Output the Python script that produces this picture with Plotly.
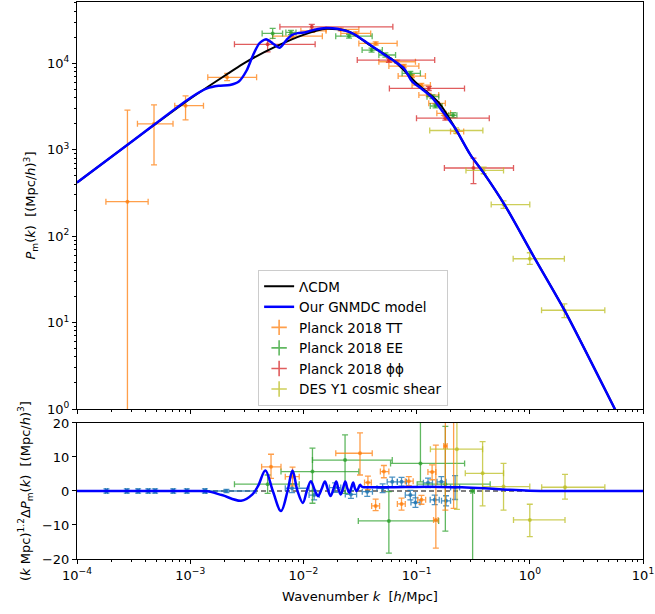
import plotly.graph_objects as go

# ---------------- model curves, top panel ----------------
k_lcdm = [1e-4, 3.16e-4, 1e-3, 1.78e-3, 3.16e-3, 5.62e-3, 1e-2, 1.585e-2, 2.51e-2, 3.98e-2,
          6.31e-2, 0.1, 0.1585, 0.219, 0.298, 0.391, 0.607, 1.077, 2.05, 5.64, 10.0]
P_lcdm = [417, 1288, 3890, 6457, 10470, 15490, 21380, 25120, 23440, 15850,
          10720, 5890, 3470, 1780, 880, 540, 224, 58.9, 13.5, 1.0, 0.225]

k_gn = [1e-4, 3.16e-4, 1e-3, 1.41e-3, 1.78e-3, 2.24e-3, 2.69e-3, 3.16e-3, 3.55e-3, 4.07e-3,
        4.68e-3, 5.37e-3, 6.17e-3, 7.08e-3, 7.94e-3, 8.91e-3, 1.047e-2, 1.259e-2, 1.585e-2,
        1.995e-2, 2.69e-2, 3.55e-2, 5.01e-2, 6.46e-2, 7.76e-2, 9.12e-2, 0.1122, 0.138, 0.166,
        0.219, 0.298, 0.391, 0.607, 1.077, 2.05, 5.64, 10.0]
P_gn = [417, 1288, 3980, 5130, 5500, 5620, 6170, 8320, 12020, 16980,
        19050, 16980, 15140, 18620, 21380, 22390, 22910, 24550, 25700,
        25120, 22390, 17780, 13030, 10470, 8710, 6170, 5010, 3980, 2880,
        1780, 880, 540, 224, 58.9, 13.5, 1.0, 0.225]

# ---------------- residual curve, bottom panel ----------------
logk_res = [-4.0, -3.0, -2.85, -2.72, -2.55, -2.45, -2.40, -2.336, -2.27, -2.198, -2.14, -2.096,
            -2.052, -2.005, -1.97, -1.934, -1.90, -1.87, -1.84, -1.81, -1.785, -1.76, -1.735,
            -1.71, -1.69, -1.67, -1.65, -1.63, -1.612, -1.595, -1.578, -1.56, -1.545, -1.53,
            -1.515, -1.50, -1.48, -1.40, -1.2, -1.0, -0.8, -0.6, -0.4, -0.2, 0.0, 0.3, 1.0]
res_gn = [0.0, 0.0, -0.1, -1.2, -2.85, -1.0, 1.5, 6.0, 0.0, -5.9, 0.0, 6.0,
          0.0, -3.5, 0.0, 2.9, 0.3, -1.5, 0.5, 2.8, 0.5, -1.5, 0.5,
          2.8, 0.5, -1.0, 0.8, 2.8, 0.8, -0.5, 0.8, 2.5, 0.8, 0.0,
          0.8, 1.8, 1.2, 1.1, 1.1, 1.2, 1.2, 1.1, 0.8, 0.4, 0.1, 0.0, 0.0]

# ---------------- data, top panel: k, k_low, k_high, P, P_low, P_high ----------------
tt_k = [2.79e-4, 4.79e-4, 9.1e-4, 2.12e-3, 8.0e-3, 0.012, 0.0214, 0.029, 0.0435, 0.0673,
        0.077, 0.091, 0.110, 0.128, 0.151, 0.174, 0.227]
tt_klo = [1.80e-4, 3.42e-4, 7.3e-4, 1.43e-3, 5.35e-3, 9.5e-3, 0.01585, 0.0214, 0.0309, 0.0464,
          0.0569, 0.0687, 0.0912, 0.1047, 0.128, 0.151, 0.1995]
tt_khi = [4.25e-4, 7.05e-4, 1.31e-3, 3.86e-3, 1.47e-2, 0.01585, 0.0309, 0.0393, 0.0673, 0.0977,
          0.1047, 0.1197, 0.1324, 0.1567, 0.1795, 0.1995, 0.2606]
tt_P = [251, 1995, 3240, 6900, 20650, 23800, 24700, 22200, 17000, 10430,
        9300, 7130, 5610, 4300, 3450, 2640, 1630]
tt_Plo = [-1, 670, 2220, 6300, 19500, 22800, 23800, 21300, 16300, 10000,
          8900, 6850, 5380, 4120, 3300, 2500, 1540]
tt_Phi = [2880, 3300, 4200, 7670, 21800, 24800, 25600, 23100, 17700, 10900,
          9700, 7420, 5850, 4480, 3600, 2780, 1720]

ee_k = [5.35e-3, 7.76e-3, 0.0253, 0.040, 0.053, 0.088, 0.138, 0.147, 0.21]
ee_klo = [4.32e-3, 7.0e-3, 0.0193, 0.033, 0.0464, 0.0745, 0.1236, 0.132, 0.192]
ee_khi = [6.55e-3, 8.6e-3, 0.0405, 0.0498, 0.0652, 0.108, 0.157, 0.168, 0.227]
ee_P = [22200, 22800, 20650, 14260, 12500, 7670, 4110, 3210, 2510]
ee_Plo = [19450, 21500, 19600, 13500, 11800, 7300, 3900, 3050, 2350]
ee_Phi = [25350, 24100, 21700, 15000, 13200, 8050, 4320, 3380, 2680]

pp_k = [4.83e-3, 0.01186, 0.0569, 0.128, 0.1795, 0.318]
pp_klo = [2.46e-3, 6.2e-3, 0.0299, 0.0575, 0.0998, 0.176]
pp_khi = [0.0127, 0.0617, 0.1445, 0.265, 0.4385, 0.718]
pp_P = [16600, 26500, 10900, 5130, 2320, 615]
pp_Plo = [13600, 23200, 10300, 4850, 2200, 405]
pp_Phi = [18580, 28200, 11500, 5420, 2450, 802]

des_k = [0.223, 0.391, 0.586, 1.0, 2.02]
des_klo = [0.1306, 0.273, 0.456, 0.713, 1.27]
des_khi = [0.385, 0.586, 1.0, 2.02, 4.6]
des_P = [1670, 577, 232, 54.8, 13.9]
des_Plo = [1560, 528, 210, 47.1, 11.4]
des_Phi = [1790, 631, 256, 64.3, 16.5]

# ---------------- data, bottom panel: log10 k, log10 k_low, log10 k_high, value, low, high ----------------
tt_rlk = [-2.286, -2.096, -1.50, -1.43, -1.362, -1.289, -1.133, -1.069, -0.957, -0.863, -0.83, -0.746, -0.673]
tt_rlklo = [-2.369, -2.16, -1.714, -1.46, -1.397, -1.32, -1.17, -1.10, -0.99, -0.90, -0.85, -0.76, -0.69]
tt_rlkhi = [-2.198, -2.037, -1.392, -1.40, -1.327, -1.245, -1.10, -1.03, -0.92, -0.83, -0.81, -0.73, -0.655]
tt_r = [7.1, 4.2, 11.1, 2.5, -4.4, 5.7, -3.8, 2.9, -2.6, 5.6, -8.5, 13.2, 30.0]
tt_rlo = [3.7, 1.5, 4.7, 0.4, -5.8, 3.9, -5.6, 1.6, -3.9, 3.3, -16.8, -5.6, -5.1]
tt_rhi = [10.8, 7.0, 17.1, 4.4, -2.4, 7.5, -2.1, 4.2, -1.3, 7.7, 13.5, 25.0, 35.0]

ee_rlk = [-2.316, -1.92, -1.632, -1.245, -0.966, -0.746, -0.505]
ee_rlklo = [-2.609, -2.198, -1.92, -1.515, -1.23, -0.995, -0.52]
ee_rlkhi = [-2.037, -1.51, -1.215, -0.805, -0.576, -0.35, -0.49]
ee_r = [2.0, 5.7, 9.1, -8.8, 8.1, 2.0, 0.0]
ee_rlo = [-0.7, -3.6, -0.7, -18.3, 2.7, -11.8, -30.0]
ee_rhi = [4.7, 12.6, 16.5, -0.2, 25.0, 19.0, 0.8]

des_rlk = [-0.644, -0.417, -0.232, 0.0, 0.311]
des_rlklo = [-0.878, -0.57, -0.417, -0.144, 0.105]
des_rlkhi = [-0.417, -0.232, 0.0, 0.311, 0.663]
des_r = [12.3, 5.2, 1.3, -8.5, 1.1]
des_rlo = [-5.4, -4.4, -5.6, -13.4, -2.4]
des_rhi = [22.0, 14.5, 8.1, -3.9, 4.9]

lrg_rlk = [-3.74, -3.56, -3.46, -3.37, -3.31, -3.15, -3.03, -2.87, -2.68, -2.10, -1.905, -1.72,
           -1.58, -1.436, -1.30, -1.215, -1.133, -1.055, -1.01, -0.899, -0.84, -0.781, -0.74, -0.66]
lrg_rlklo = [-3.75, -3.57, -3.47, -3.38, -3.32, -3.16, -3.04, -2.88, -2.858, -2.16, -1.95, -1.77,
             -1.63, -1.48, -1.35, -1.26, -1.17, -1.10, -1.05, -0.94, -0.88, -0.82, -0.78, -0.70]
lrg_rlkhi = [-3.73, -3.55, -3.45, -3.36, -3.30, -3.14, -3.02, -2.86, -2.418, -1.95, -1.86, -1.67,
             -1.53, -1.39, -1.25, -1.17, -1.09, -1.01, -0.97, -0.86, -0.80, -0.74, -0.70, -0.62]
lrg_r = [0, 0, 0, 0, 0, 0, 0, 0, 0, 0.8, -1.2, 1.0, -1.0, -0.2, 0.8, 2.7, 2.7, -1.2, -3.4, 2.4,
         -2.6, 2.7, -2.9, 1.0]
lrg_rlo = [-0.6, -0.6, -0.6, -0.6, -0.6, -0.6, -0.6, -0.6, -0.5, -0.5, -2.6, -0.4, -2.2, -1.6,
           -0.5, 1.3, 1.4, -2.6, -4.8, 1.0, -4.0, 1.2, -4.4, -2.5]
lrg_rhi = [0.6, 0.6, 0.6, 0.6, 0.6, 0.6, 0.6, 0.6, 0.5, 2.1, 0.2, 2.4, 0.2, 1.2, 2.1, 4.1, 4.0,
           0.2, -2.0, 3.8, -1.2, 4.2, -1.4, 4.5]

FONT = "DejaVu Sans"
C_TT = "rgba(255,127,14,0.75)"
C_EE = "rgba(44,160,44,0.75)"
C_PP = "rgba(214,39,40,0.75)"
C_DES = "rgba(188,189,34,0.75)"
C_LRG = "rgba(31,119,180,0.8)"

fig = go.Figure()


def add_top(color, k, klo, khi, P, Plo, Phi):
    fig.add_trace(go.Scatter(
        x=k, y=P, mode="markers", showlegend=False,
        marker=dict(color=color, size=4),
        error_x=dict(type="data", symmetric=False,
                     array=[h - c for c, h in zip(k, khi)],
                     arrayminus=[c - l for c, l in zip(k, klo)],
                     color=color, thickness=1.3, width=3),
        error_y=dict(type="data", symmetric=False,
                     array=[h - c for c, h in zip(P, Phi)],
                     arrayminus=[c - l for c, l in zip(P, Plo)],
                     color=color, thickness=1.3, width=3),
        xaxis="x", yaxis="y"))


def add_bot(color, lk, lklo, lkhi, r, rlo, rhi):
    k = [10 ** v for v in lk]
    fig.add_trace(go.Scatter(
        x=k, y=r, mode="markers", showlegend=False,
        marker=dict(color=color, size=4),
        error_x=dict(type="data", symmetric=False,
                     array=[10 ** h - c for c, h in zip(k, lkhi)],
                     arrayminus=[c - 10 ** l for c, l in zip(k, lklo)],
                     color=color, thickness=1.3, width=3),
        error_y=dict(type="data", symmetric=False,
                     array=[h - c for c, h in zip(r, rhi)],
                     arrayminus=[c - l for c, l in zip(r, rlo)],
                     color=color, thickness=1.3, width=3),
        xaxis="x2", yaxis="y2"))


def add_legend_entry(name, color, rank):
    fig.add_trace(go.Scatter(
        x=[None], y=[None], mode="markers", name=name, legendrank=rank,
        marker=dict(symbol="cross-thin", size=11, color=color,
                    line=dict(color=color, width=1.6)),
        xaxis="x", yaxis="y"))


add_top(C_TT, tt_k, tt_klo, tt_khi, tt_P, tt_Plo, tt_Phi)
add_top(C_EE, ee_k, ee_klo, ee_khi, ee_P, ee_Plo, ee_Phi)
add_top(C_PP, pp_k, pp_klo, pp_khi, pp_P, pp_Plo, pp_Phi)
add_top(C_DES, des_k, des_klo, des_khi, des_P, des_Plo, des_Phi)

add_bot(C_LRG, lrg_rlk, lrg_rlklo, lrg_rlkhi, lrg_r, lrg_rlo, lrg_rhi)
add_bot(C_EE, ee_rlk, ee_rlklo, ee_rlkhi, ee_r, ee_rlo, ee_rhi)
add_bot(C_TT, tt_rlk, tt_rlklo, tt_rlkhi, tt_r, tt_rlo, tt_rhi)
add_bot(C_DES, des_rlk, des_rlklo, des_rlkhi, des_r, des_rlo, des_rhi)

fig.add_trace(go.Scatter(x=k_lcdm, y=P_lcdm, mode="lines", name="ΛCDM", legendrank=1,
                         line=dict(color="black", width=2, shape="spline", smoothing=0.7),
                         xaxis="x", yaxis="y"))
fig.add_trace(go.Scatter(x=k_gn, y=P_gn, mode="lines", name="Our GNMDC model", legendrank=2,
                         line=dict(color="#0000ff", width=2.5, shape="spline", smoothing=0.7),
                         xaxis="x", yaxis="y"))
fig.add_trace(go.Scatter(x=[10 ** v for v in logk_res], y=res_gn, mode="lines", showlegend=False,
                         line=dict(color="#0000ff", width=2.5, shape="spline"),
                         xaxis="x2", yaxis="y2"))

add_legend_entry("Planck 2018 TT", C_TT, 3)
add_legend_entry("Planck 2018 EE", C_EE, 4)
add_legend_entry("Planck 2018 ϕϕ", C_PP, 5)
add_legend_entry("DES Y1 cosmic shear", C_DES, 6)

fig.add_shape(type="line", xref="x2 domain", yref="y2", x0=0, x1=1, y0=0, y1=0,
              line=dict(color="black", width=1.2, dash="5px,3px"), layer="below")

minor_x = [m * 10 ** e for e in range(-4, 1) for m in range(2, 10)]
minor_y = [m * 10 ** e for e in range(0, 5) for m in range(2, 10)]
xt = [10 ** e for e in range(-4, 2)]
xtt = ["10<sup>−4</sup>", "10<sup>−3</sup>", "10<sup>−2</sup>", "10<sup>−1</sup>",
       "10<sup>0</sup>", "10<sup>1</sup>"]

axis_common = dict(showgrid=False, zeroline=False, showline=True, linecolor="black",
                   linewidth=1, mirror=True, ticks="outside", ticklen=4, tickwidth=1,
                   tickcolor="black", automargin=False,
                   tickfont=dict(family=FONT, size=13, color="black"))

fig.update_layout(
    width=655, height=614,
    margin=dict(l=77, r=12, t=2, b=55, autoexpand=False),
    paper_bgcolor="white", plot_bgcolor="white",
    font=dict(family=FONT, size=13, color="black"),
    xaxis=dict(axis_common, type="log", range=[-4, 1], domain=[0, 1], anchor="y",
               tickvals=xt, showticklabels=False,
               minor=dict(ticks="outside", ticklen=2, tickcolor="black", tickvals=minor_x)),
    yaxis=dict(axis_common, type="log", range=[0, 4.71], domain=[0.2693, 1], anchor="x",
               tickvals=[1, 10, 100, 1000, 10000],
               ticktext=["10<sup>0</sup>", "10<sup>1</sup>", "10<sup>2</sup>",
                         "10<sup>3</sup>", "10<sup>4</sup>"],
               minor=dict(ticks="outside", ticklen=2, tickcolor="black", tickvals=minor_y),
               title=dict(text="<i>P</i><sub>m</sub>(<i>k</i>)  [(Mpc/<i>h</i>)<sup>3</sup>]",
                          font=dict(family=FONT, size=13), standoff=8)),
    xaxis2=dict(axis_common, type="log", range=[-4, 1], domain=[0, 1], anchor="y2",
                tickvals=xt, ticktext=xtt,
                minor=dict(ticks="outside", ticklen=2, tickcolor="black", tickvals=minor_x),
                title=dict(text="Wavenumber <i>k</i>  [<i>h</i>/Mpc]",
                           font=dict(family=FONT, size=13), standoff=10)),
    yaxis2=dict(axis_common, range=[-20, 20], domain=[0, 0.2442], anchor="x2",
                tickvals=[-20, -10, 0, 10, 20], ticktext=["−20", "−10", "0", "10", "20"],
                title=dict(text="(<i>k</i> Mpc)<sup>1.2</sup>Δ<i>P</i><sub>m</sub>(<i>k</i>)  [(Mpc/<i>h</i>)<sup>3</sup>]",
                           font=dict(family=FONT, size=13), standoff=8)),
    legend=dict(x=0.32, y=0.5189, xanchor="left", yanchor="top",
                bgcolor="white", bordercolor="#cccccc", borderwidth=1,
                font=dict(family=FONT, size=13.5), tracegroupgap=0, itemwidth=30),
    showlegend=True,
)

fig.write_html("out.html", config={"displayModeBar": False},
               post_script="document.body.style.margin='0';document.body.style.overflow='hidden';")
